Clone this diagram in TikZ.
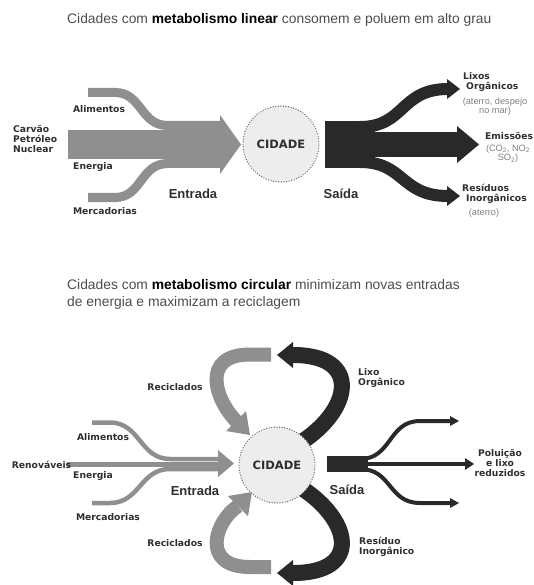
\documentclass[tikz,border=0pt]{standalone}
\usepackage{fontspec}
\setmainfont{Liberation Sans}
\newfontfamily\heavyfont{DejaVu Sans}

\definecolor{inflow}{gray}{0.56}
\definecolor{outflow}{gray}{0.16}
\definecolor{cityfill}{gray}{0.93}
\definecolor{citydots}{gray}{0.42}
\definecolor{inktext}{gray}{0.18}
\definecolor{softtext}{gray}{0.5}

\tikzset{
	lbl/.style = {font = \heavyfont\bfseries\fontsize{9.2}{10}\selectfont, text = inktext, inner sep = 0pt, align = center},
	flowword/.style = {font = \bfseries\fontsize{13}{15}\selectfont, text = inktext, inner sep = 0pt},
	note/.style = {font = \fontsize{9.2}{9.5}\selectfont, text = softtext, inner sep = 0pt, align = center},
	heading/.style = {font = \fontsize{13.85}{17}\selectfont, text = inktext!85, inner sep = 0pt, align = left},
	city/.style = {circle, minimum size = 76pt, inner sep = 0pt, fill = cityfill, draw = citydots, line width = 1.4pt, line cap = round, dash pattern = on 0pt off 2.6pt, font = \heavyfont\bfseries\fontsize{11.5}{12}\selectfont, text = inktext},
}

\begin{document}
\begin{tikzpicture}[x = 1pt, y = -1pt]
	\useasboundingbox (0, 0) rectangle (533, 585);
	% linear metabolism
	\node[heading, anchor = west] (tituloA) at (67, 20) {Cidades com \textbf{\color{black}metabolismo linear} consomem e poluem em alto grau};
	% entrada
	\fill[inflow] (68, 130) rectangle (222, 159);
	\draw[inflow, line width = 9pt] (88, 92.5) -- (115, 92.5) .. controls (142, 92.5) and (140, 125.5) .. (168, 125.5) -- (222, 125.5);
	\draw[inflow, line width = 9pt] (88, 197.5) -- (115, 197.5) .. controls (142, 197.5) and (140, 163.5) .. (168, 163.5) -- (222, 163.5);
	\fill[inflow] (220, 115) -- (241, 144.5) -- (220, 174) -- cycle;
	% saida
	\fill[outflow] (325, 121) rectangle (375, 168);
	\draw[outflow, line width = 12pt] (360, 127) .. controls (405, 127) and (400, 89) .. (448, 89);
	\fill[outflow] (447, 79) -- (460, 89) -- (447, 99) -- cycle;
	\fill[outflow] (370, 132) rectangle (458, 157);
	\fill[outflow] (457, 126) -- (479, 144.5) -- (457, 163) -- cycle;
	\draw[outflow, line width = 12pt] (360, 162) .. controls (405, 162) and (400, 196) .. (448, 196);
	\fill[outflow] (447, 186) -- (460, 196) -- (447, 206) -- cycle;
	% city
	\node[city] (cidadeA) at (281, 144) {CIDADE};
	\node[lbl, anchor = west, align = left] (fontesA) at (13, 139) {Carvão\\Petróleo\\Nuclear};
	\node[lbl] (alimentosA) at (99, 109) {Alimentos};
	\node[lbl] (energiaA) at (93, 167) {Energia};
	\node[lbl] (mercadoriasA) at (105, 211) {Mercadorias};
	\node[flowword] (entradaA) at (193, 194) {Entrada};
	\node[flowword] (saidaA) at (341, 194) {Saída};
	\node[lbl, anchor = west, align = left] (lixosA) at (463, 82) {Lixos\\\hspace{3pt}Orgânicos};
	\node[note] (lixosnotaA) at (495, 106.5) {(aterro, despejo\\no mar)};
	\node[lbl] (emissoesA) at (509, 136) {Emissões};
	\node[note] (emissoesnotaA) at (508, 153.5) {(CO\textsubscript{2}, NO\textsubscript{2}\\SO\textsubscript{2})};
	\node[lbl, anchor = west, align = left] (residuosA) at (462, 194) {Resíduos\\\hspace{4pt}Inorgânicos};
	\node[note] (residuosnotaA) at (484, 213) {(aterro)};

	% circular metabolism
	\node[heading, anchor = west] (tituloB) at (67, 294.5) {Cidades com \textbf{\color{black}metabolismo circular} minimizam novas entradas\\de energia e maximizam a reciclagem};
	% entrada
	\draw[inflow, line width = 5pt] (67, 464) -- (220, 464);
	\draw[inflow, line width = 4.5pt] (92, 422.5) -- (110, 422.5) .. controls (140, 422.5) and (140, 459) .. (170, 459) -- (220, 459);
	\draw[inflow, line width = 4.5pt] (92, 503) -- (110, 503) .. controls (140, 503) and (140, 469) .. (170, 469) -- (220, 469);
	\fill[inflow] (218, 450) -- (234, 463.5) -- (218, 477) -- cycle;
	% reciclados
	\draw[inflow, line width = 14pt] (271, 354.5) -- (250, 354.5) .. controls (200, 354.5) and (215, 400) .. (237, 422);
	\fill[inflow] (250, 435) -- (246, 411) -- (226, 431) -- cycle;
	\draw[inflow, line width = 14pt] (271, 567) -- (250, 567) .. controls (200, 567) and (215, 521) .. (238, 506);
	\fill[inflow] (252, 492) -- (248, 516) -- (228, 496) -- cycle;
	% lixo and residuo
	\draw[outflow, line width = 16pt] (300, 443) .. controls (352, 410) and (362, 355) .. (293, 355);
	\fill[outflow] (293, 342) -- (277, 355) -- (293, 368) -- cycle;
	\draw[outflow, line width = 16pt] (300, 487) .. controls (352, 520) and (362, 573) .. (293, 573);
	\fill[outflow] (293, 560) -- (277, 573) -- (293, 586) -- cycle;
	% saida
	\fill[outflow] (327, 456) rectangle (368, 472);
	\draw[outflow, line width = 4pt] (360, 459) .. controls (392, 459) and (388, 421) .. (420, 421) -- (451, 421);
	\fill[outflow] (450, 416) -- (459, 421) -- (450, 426) -- cycle;
	\draw[outflow, line width = 4.5pt] (365, 464) -- (466, 464);
	\fill[outflow] (465, 458) -- (474, 464) -- (465, 470) -- cycle;
	\draw[outflow, line width = 4pt] (360, 469) .. controls (392, 469) and (388, 503) .. (420, 503) -- (451, 503);
	\fill[outflow] (450, 498) -- (459, 503) -- (450, 508) -- cycle;
	% city
	\node[city] (cidadeB) at (277, 465) {CIDADE};
	\node[lbl] (recicladosB) at (175, 387) {Reciclados};
	\node[lbl] (reciclados2B) at (175, 543) {Reciclados};
	\node[lbl] (renovaveisB) at (41.5, 465) {Renováveis};
	\node[lbl] (alimentosB) at (103, 437) {Alimentos};
	\node[lbl] (energiaB) at (93, 476) {Energia};
	\node[lbl] (mercadoriasB) at (108, 517) {Mercadorias};
	\node[flowword] (entradaB) at (195, 491) {Entrada};
	\node[flowword] (saidaB) at (347, 490) {Saída};
	\node[lbl, anchor = west, align = left] (lixoB) at (358, 378) {Lixo\\Orgânico};
	\node[lbl, anchor = west, align = left] (residuoB) at (359, 547) {Resíduo\\Inorgânico};
	\node[lbl] (poluicaoB) at (500, 463) {Poluição\\e lixo\\reduzidos};
\end{tikzpicture}
\end{document}
